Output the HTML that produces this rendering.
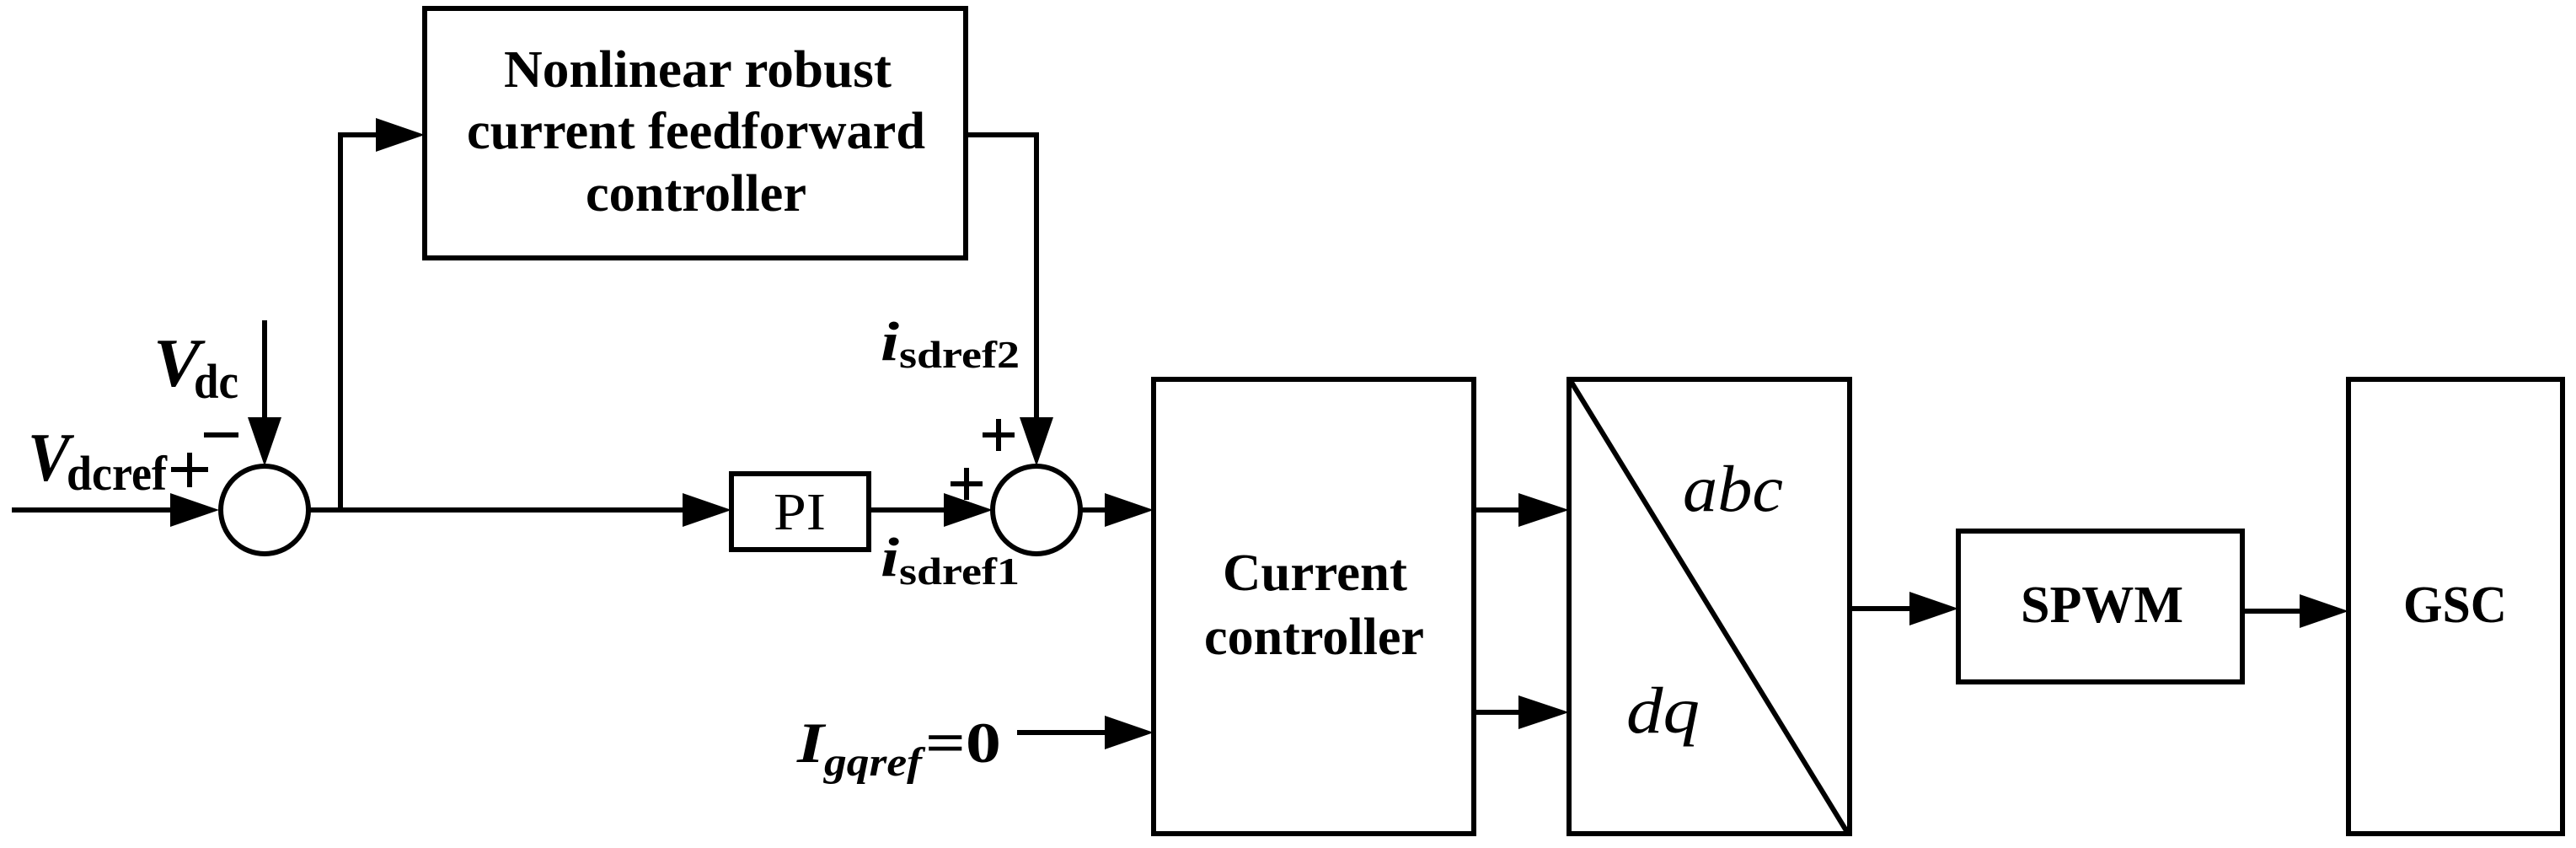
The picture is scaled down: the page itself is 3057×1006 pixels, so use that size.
<!DOCTYPE html>
<html><head><meta charset="utf-8"><style>
html,body{margin:0;padding:0;background:#fff;}
svg{display:block;}
text{font-family:"Liberation Serif",serif;fill:#000;}
.b{font-weight:bold;}
.i{font-style:italic;}
</style></head><body>
<svg width="3057" height="1006" viewBox="0 0 3057 1006" xmlns="http://www.w3.org/2000/svg">
<g stroke="#000" stroke-width="6" fill="none">
<rect x="504" y="10" width="642" height="296"/>
<circle cx="314" cy="605" r="52"/>
<circle cx="1230" cy="605" r="52"/>
<rect x="868" y="562" width="163" height="90"/>
<rect x="1369" y="450" width="380" height="539"/>
<rect x="1862" y="450" width="333" height="539"/>
<line x1="1864" y1="452" x2="2192" y2="987"/>
<rect x="2324" y="630" width="337" height="179"/>
<rect x="2787" y="450" width="254" height="539"/>
<!-- lines -->
<line x1="14" y1="605" x2="210" y2="605"/>
<line x1="314" y1="380" x2="314" y2="500"/>
<polyline points="366,605 404,605 404,160 450,160"/>
<line x1="404" y1="605" x2="810" y2="605"/>
<line x1="1031" y1="605" x2="1120" y2="605"/>
<polyline points="1146,160 1230,160 1230,500"/>
<line x1="1282" y1="605" x2="1312" y2="605"/>
<line x1="1207" y1="869" x2="1312" y2="869"/>
<line x1="1749" y1="605" x2="1805" y2="605"/>
<line x1="1749" y1="845" x2="1805" y2="845"/>
<line x1="2195" y1="722" x2="2268" y2="722"/>
<line x1="2661" y1="725" x2="2730" y2="725"/>
</g>
<g fill="#000">
<polygon points="202,585 260,605 202,625"/>
<polygon points="294,495 334,495 314,553"/>
<polygon points="446,140 504,160 446,180"/>
<polygon points="810,585 868,605 810,625"/>
<polygon points="1120,585 1178,605 1120,625"/>
<polygon points="1210,495 1250,495 1230,553"/>
<polygon points="1311,585 1369,605 1311,625"/>
<polygon points="1311,849 1369,869 1311,889"/>
<polygon points="1802,585 1862,605 1802,625"/>
<polygon points="1802,825 1862,845 1802,865"/>
<polygon points="2266,702 2324,722 2266,742"/>
<polygon points="2729,705 2787,725 2729,745"/>
</g>
<g class="b" font-size="62">
<text x="598" y="103" textLength="460" lengthAdjust="spacingAndGlyphs">Nonlinear robust</text>
<text x="554" y="176" textLength="544" lengthAdjust="spacingAndGlyphs">current feedforward</text>
<text x="695" y="250" textLength="262" lengthAdjust="spacingAndGlyphs">controller</text>
<text x="1451" y="700" textLength="219" lengthAdjust="spacingAndGlyphs">Current</text>
<text x="1429" y="776" textLength="261" lengthAdjust="spacingAndGlyphs">controller</text>
<text x="2398" y="738" textLength="193" lengthAdjust="spacingAndGlyphs">SPWM</text>
<text x="2852" y="738" textLength="123" lengthAdjust="spacingAndGlyphs">GSC</text>
</g>
<text x="918" y="628" font-size="62" textLength="62" lengthAdjust="spacingAndGlyphs">PI</text>
<text x="1997" y="606" font-size="78" class="i" textLength="119" lengthAdjust="spacingAndGlyphs">abc</text>
<text x="1930" y="869" font-size="78" class="i" textLength="87" lengthAdjust="spacingAndGlyphs">dq</text>
<!-- labels -->
<text x="182" y="458" font-size="82" class="b i" textLength="56" lengthAdjust="spacingAndGlyphs">V</text>
<text x="230" y="472" font-size="58" class="b" textLength="53" lengthAdjust="spacingAndGlyphs">dc</text>
<text x="33" y="570" font-size="82" class="b i" textLength="50" lengthAdjust="spacingAndGlyphs">V</text>
<text x="79" y="581" font-size="58" class="b" textLength="119" lengthAdjust="spacingAndGlyphs">dcref</text>
<g stroke="#000" stroke-width="6">
<line x1="203" y1="557" x2="247" y2="557"/><line x1="225" y1="537" x2="225" y2="578"/>
<line x1="242" y1="516" x2="283" y2="516"/>
<line x1="1166" y1="516" x2="1204" y2="516"/><line x1="1185" y1="497" x2="1185" y2="535"/>
<line x1="1128" y1="574" x2="1166" y2="574"/><line x1="1147" y1="555" x2="1147" y2="593"/>
</g>
<text x="1045" y="427" font-size="66" class="b i" textLength="22" lengthAdjust="spacingAndGlyphs">i</text>
<text x="1067" y="436" font-size="46" class="b" textLength="143" lengthAdjust="spacingAndGlyphs">sdref2</text>
<text x="1045" y="683" font-size="66" class="b i" textLength="22" lengthAdjust="spacingAndGlyphs">i</text>
<text x="1067" y="693" font-size="46" class="b" textLength="143" lengthAdjust="spacingAndGlyphs">sdref1</text>
<text x="946" y="904" font-size="68" class="b i" textLength="32" lengthAdjust="spacingAndGlyphs">I</text>
<text x="978" y="920" font-size="48" class="b i" textLength="116" lengthAdjust="spacingAndGlyphs">gqref</text>
<text x="1098" y="904" font-size="68" class="b" textLength="90" lengthAdjust="spacingAndGlyphs">=0</text>
</svg>
</body></html>
